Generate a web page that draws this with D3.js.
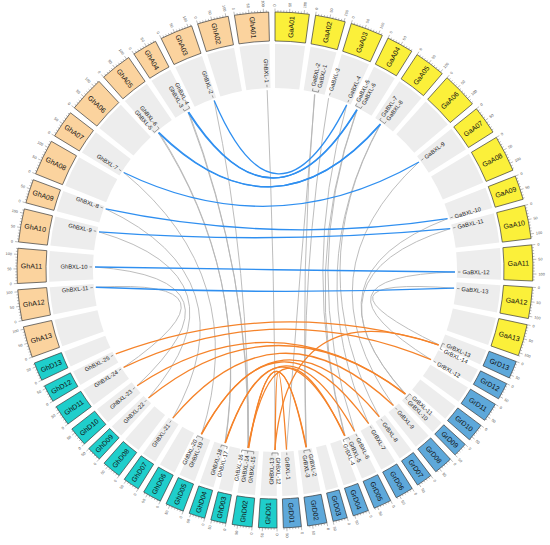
<!DOCTYPE html>
<html>
<head>
<meta charset="utf-8">
<script src="https://cdn.jsdelivr.net/npm/d3@7"></script>
<style>
body { margin: 0; background: #fff; }
svg { display: block; font-family: Arial, "Liberation Sans", sans-serif; }
</style>
</head>
<body>
<script>
// chromosome names and lengths (Mb)
var gaA = ["GaA01", "GaA02", "GaA03", "GaA04", "GaA05", "GaA06", "GaA07", "GaA08", "GaA09", "GaA10", "GaA11", "GaA12", "GaA13"];
var gaALen = [118, 104, 114, 93, 108, 125, 98, 126, 84, 116, 124, 108, 110];
var grD = ["GrD01", "GrD02", "GrD03", "GrD04", "GrD05", "GrD06", "GrD07", "GrD08", "GrD09", "GrD10", "GrD11", "GrD12", "GrD13"];
var grDLen = [62, 67, 50, 55, 62, 63, 56, 66, 50, 63, 66, 59, 61];
var ghD = ["GhD01", "GhD02", "GhD03", "GhD04", "GhD05", "GhD06", "GhD07", "GhD08", "GhD09", "GhD10", "GhD11", "GhD12", "GhD13"];
var ghDLen = [64, 69, 53, 56, 64, 65, 58, 67, 51, 67, 72, 60, 64];
var ghA = ["GhA01", "GhA02", "GhA03", "GhA04", "GhA05", "GhA06", "GhA07", "GhA08", "GhA09", "GhA10", "GhA11", "GhA12", "GhA13"];
var ghALen = [118, 108, 113, 86, 109, 124, 96, 124, 83, 115, 121, 107, 108];

// genes: name, chromosome, position (Mb)
var geneNames = [
  "GhBXL-1", "GhBXL-2", "GhBXL-3", "GhBXL-4", "GhBXL-5", "GhBXL-6", "GhBXL-7", "GhBXL-8", "GhBXL-9", "GhBXL-10", "GhBXL-11",
  "GhBXL-12", "GhBXL-13", "GhBXL-14", "GhBXL-15", "GhBXL-16", "GhBXL-17", "GhBXL-18", "GhBXL-19", "GhBXL-20",
  "GhBXL-21", "GhBXL-22", "GhBXL-23", "GhBXL-24", "GhBXL-25",
  "GaBXL-1", "GaBXL-2", "GaBXL-3", "GaBXL-4", "GaBXL-5", "GaBXL-6", "GaBXL-7", "GaBXL-8", "GaBXL-9",
  "GaBXL-10", "GaBXL-11", "GaBXL-12", "GaBXL-13",
  "GrBXL-1", "GrBXL-2", "GrBXL-3", "GrBXL-4", "GrBXL-5", "GrBXL-6", "GrBXL-7", "GrBXL-8", "GrBXL-9",
  "GrBXL-10", "GrBXL-11", "GrBXL-12", "GrBXL-13", "GrBXL-14"
];
var geneChrom = [
  "GhA01", "GhA03", "GhA04", "GhA04", "GhA05", "GhA05", "GhA07", "GhA09", "GhA10", "GhA11", "GhA12",
  "GhD01", "GhD01", "GhD02", "GhD02", "GhD02", "GhD04", "GhD04", "GhD05", "GhD05",
  "GhD07", "GhD09", "GhD10", "GhD11", "GhD12",
  "GaA02", "GaA02", "GaA03", "GaA03", "GaA04", "GaA04", "GaA05", "GaA05", "GaA07",
  "GaA09", "GaA10", "GaA11", "GaA12",
  "GrD01", "GrD02", "GrD02", "GrD05", "GrD05", "GrD05", "GrD06", "GrD07", "GrD08",
  "GrD09", "GrD09", "GrD12", "GrD13", "GrD13"
];
var genePos = [
  101, 99, 66, 70, 19, 23, 23, 73, 92, 61, 90,
  6, 8, 53, 51, 55, 3, 5, 50, 52,
  40, 27, 37, 60, 43,
  58, 56, 2, 97, 16, 18, 37, 39, 28,
  74, 19, 96, 30,
  34, 24, 26, 60, 58, 6, 12, 27, 26,
  17, 15, 58, 58, 60
];

// collinear pairs
var blueLinks = [
  ["GhBXL-2", "GaBXL-4"], ["GhBXL-3", "GaBXL-5"], ["GhBXL-4", "GaBXL-6"], ["GhBXL-5", "GaBXL-7"],
  ["GhBXL-6", "GaBXL-8"], ["GhBXL-7", "GaBXL-9"], ["GhBXL-8", "GaBXL-10"], ["GhBXL-9", "GaBXL-11"],
  ["GhBXL-10", "GaBXL-12"], ["GhBXL-11", "GaBXL-13"]
];
var orangeLinks = [
  ["GrBXL-1", "GhBXL-12"], ["GrBXL-2", "GhBXL-14"], ["GrBXL-3", "GhBXL-15"], ["GrBXL-4", "GhBXL-16"],
  ["GrBXL-5", "GhBXL-17"], ["GrBXL-6", "GhBXL-18"], ["GrBXL-7", "GhBXL-19"], ["GrBXL-8", "GhBXL-20"],
  ["GrBXL-9", "GhBXL-21"], ["GrBXL-10", "GhBXL-22"], ["GrBXL-11", "GhBXL-23"], ["GrBXL-12", "GhBXL-24"],
  ["GrBXL-13", "GhBXL-25"], ["GrBXL-14", "GhBXL-13"]
];
var grayLinks = [
  ["GhBXL-1", "GhBXL-12"], ["GhBXL-2", "GhBXL-14"], ["GhBXL-3", "GhBXL-15"], ["GhBXL-4", "GhBXL-16"],
  ["GhBXL-5", "GhBXL-17"], ["GhBXL-6", "GhBXL-18"], ["GhBXL-7", "GhBXL-19"], ["GhBXL-8", "GhBXL-21"],
  ["GhBXL-9", "GhBXL-22"], ["GhBXL-10", "GhBXL-23"], ["GhBXL-11", "GhBXL-24"],
  ["GaBXL-1", "GrBXL-1"], ["GaBXL-2", "GrBXL-2"], ["GaBXL-3", "GrBXL-3"], ["GaBXL-4", "GrBXL-4"],
  ["GaBXL-5", "GrBXL-5"], ["GaBXL-6", "GrBXL-6"], ["GaBXL-7", "GrBXL-7"], ["GaBXL-8", "GrBXL-8"],
  ["GaBXL-9", "GrBXL-9"], ["GaBXL-10", "GrBXL-10"], ["GaBXL-11", "GrBXL-11"], ["GaBXL-12", "GrBXL-12"],
  ["GaBXL-13", "GrBXL-13"]
];

var width = 550, height = 545;
var cx = 275, cy = 270;
var gapDeg = 1.4;
var rBandIn = 182, rBandOut = 226;
var rBoxIn = 229, rBoxOut = 258;
var rLink = 180;

var fills = { GaA: "#fbf03a", GrD: "#5ea8da", GhD: "#1fcecb", GhA: "#fbd39e" };

// order round the circle, clockwise from the top
var ring = [];
function addSet(names, lens, key, reverse) {
  var idx = d3.range(names.length);
  if (reverse) idx.reverse();
  idx.forEach(function (i) {
    ring.push({ name: names[i], len: lens[i], fill: fills[key] });
  });
}
addSet(gaA, gaALen, "GaA", false);
addSet(grD, grDLen, "GrD", true);
addSet(ghD, ghDLen, "GhD", false);
addSet(ghA, ghALen, "GhA", true);

var total = d3.sum(ring, function (d) { return d.len; });
var mb = d3.scaleLinear().domain([0, total]).range([0, 360 - gapDeg * ring.length]);
var chromByName = {};
var acc = 0;
ring.forEach(function (c, i) {
  c.start = mb(acc) + i * gapDeg;
  c.end = c.start + mb(c.len);
  c.scale = d3.scaleLinear().domain([0, c.len]).range([c.start, c.end]);
  chromByName[c.name] = c;
  acc += c.len;
});

var rad = Math.PI / 180;
function pt(a, r) { return [r * Math.sin(a * rad), -r * Math.cos(a * rad)]; }
function place(a, r) {
  return "rotate(" + (a - 90) + ") translate(" + r + ",0)" + (a > 180 ? " rotate(180)" : "");
}

var svg = d3.select("body").append("svg")
  .attr("width", width)
  .attr("height", height);
svg.append("rect").attr("width", width).attr("height", height).attr("fill", "#fff");

var g = svg.append("g").attr("transform", "translate(" + cx + "," + cy + ")");

// gray track behind labels
var bandArc = d3.arc().innerRadius(rBandIn).outerRadius(rBandOut);
g.selectAll("path.band").data(ring).enter().append("path")
  .attr("class", "band")
  .attr("d", function (d) { return bandArc({ startAngle: d.start * rad, endAngle: d.end * rad }); })
  .attr("fill", "#ededed");

// chromosome boxes
var boxArc = d3.arc().innerRadius(rBoxIn).outerRadius(rBoxOut);
g.selectAll("path.box").data(ring).enter().append("path")
  .attr("class", "box")
  .attr("d", function (d) { return boxArc({ startAngle: d.start * rad, endAngle: d.end * rad }); })
  .attr("fill", function (d) { return d.fill; })
  .attr("stroke", "#3a3a3a")
  .attr("stroke-width", 0.7);

g.selectAll("text.chr").data(ring).enter().append("text")
  .attr("class", "chr")
  .attr("transform", function (d) { return place((d.start + d.end) / 2, (rBoxIn + rBoxOut) / 2); })
  .attr("text-anchor", "middle")
  .attr("dy", "0.35em")
  .attr("font-size", 7)
  .attr("fill", "#111")
  .text(function (d) { return d.name; });

// ticks
ring.forEach(function (c) {
  var ticks = d3.range(0, c.len + 0.01, 10);
  ticks.forEach(function (v) {
    var a = c.scale(v);
    var major = v % 50 === 0;
    var p0 = pt(a, rBoxOut), p1 = pt(a, rBoxOut + (major ? 3.5 : 1.8));
    g.append("line")
      .attr("x1", p0[0]).attr("y1", p0[1]).attr("x2", p1[0]).attr("y2", p1[1])
      .attr("stroke", "#555").attr("stroke-width", 0.4);
    if (major) {
      g.append("text")
        .attr("transform", place(a, rBoxOut + 5.5))
        .attr("text-anchor", a > 180 ? "end" : "start")
        .attr("dy", "0.35em")
        .attr("font-size", 3.8)
        .attr("fill", "#555")
        .text(v);
    }
  });
});

// genes
var genes = geneNames.map(function (n, i) {
  var a = chromByName[geneChrom[i]].scale(genePos[i]);
  return { name: n, angle: a, label: a };
});
var geneByName = {};
genes.forEach(function (d) { geneByName[d.name] = d; });

// spread labels that sit too close
var sorted = genes.slice().sort(function (a, b) { return a.angle - b.angle; });
var minSep = 1.9;
for (var it = 0; it < 200; it++) {
  for (var k = 1; k < sorted.length; k++) {
    var d = sorted[k].label - sorted[k - 1].label;
    if (d < minSep) {
      var push = (minSep - d) / 2;
      sorted[k].label += push;
      sorted[k - 1].label -= push;
    }
  }
}
// clusters of labels that were pushed together get a bracket
var clusters = [];
sorted.forEach(function (d, k) {
  if (k > 0 && d.label - sorted[k - 1].label < minSep + 0.05) clusters[clusters.length - 1].push(d);
  else clusters.push([d]);
});

// links
function linkPath(pair) {
  var a = geneByName[pair[0]].angle, b = geneByName[pair[1]].angle;
  var p0 = pt(a, rLink), p1 = pt(b, rLink);
  var mx = Math.sin(a * rad) + Math.sin(b * rad), my = -Math.cos(a * rad) - Math.cos(b * rad);
  var m = Math.sqrt(mx * mx + my * my);
  var c = m > 0.05 ? [mx / m * 25, my / m * 25] : [0, 0];
  var p = d3.path();
  p.moveTo(p0[0], p0[1]);
  p.quadraticCurveTo(c[0], c[1], p1[0], p1[1]);
  return p.toString();
}
function drawLinks(list, color, w) {
  g.append("g").selectAll("path").data(list).enter().append("path")
    .attr("d", linkPath)
    .attr("fill", "none")
    .attr("stroke", color)
    .attr("stroke-width", w);
}
drawLinks(grayLinks, "#b5b5b5", 0.9);
drawLinks(orangeLinks, "#f5832a", 1.3);
drawLinks(blueLinks, "#2f8ff0", 1.3);

// label dashes, brackets and names
var bracketArc = d3.arc().innerRadius(rLink + 3).outerRadius(rLink + 3);
clusters.forEach(function (cl) {
  if (cl.length < 2) return;
  var a0 = cl[0].label, a1 = cl[cl.length - 1].label;
  var p = d3.path();
  var s = pt(a0, rLink + 3);
  p.moveTo(s[0], s[1]);
  p.arc(0, 0, rLink + 3, (a0 - 90) * rad, (a1 - 90) * rad);
  g.append("path").attr("d", p.toString())
    .attr("fill", "none").attr("stroke", "#444").attr("stroke-width", 0.5);
});
genes.forEach(function (d) {
  var q0 = pt(d.label, rLink + 3), q1 = pt(d.label, rLink + 5.5);
  g.append("line")
    .attr("x1", q0[0]).attr("y1", q0[1]).attr("x2", q1[0]).attr("y2", q1[1])
    .attr("stroke", "#444")
    .attr("stroke-width", 0.5);
  g.append("text")
    .attr("transform", place(d.label, rLink + 7.5))
    .attr("text-anchor", d.label > 180 ? "end" : "start")
    .attr("dy", "0.35em")
    .attr("font-size", 5.8)
    .attr("fill", "#222")
    .text(d.name);
});
</script>
</body>
</html>
